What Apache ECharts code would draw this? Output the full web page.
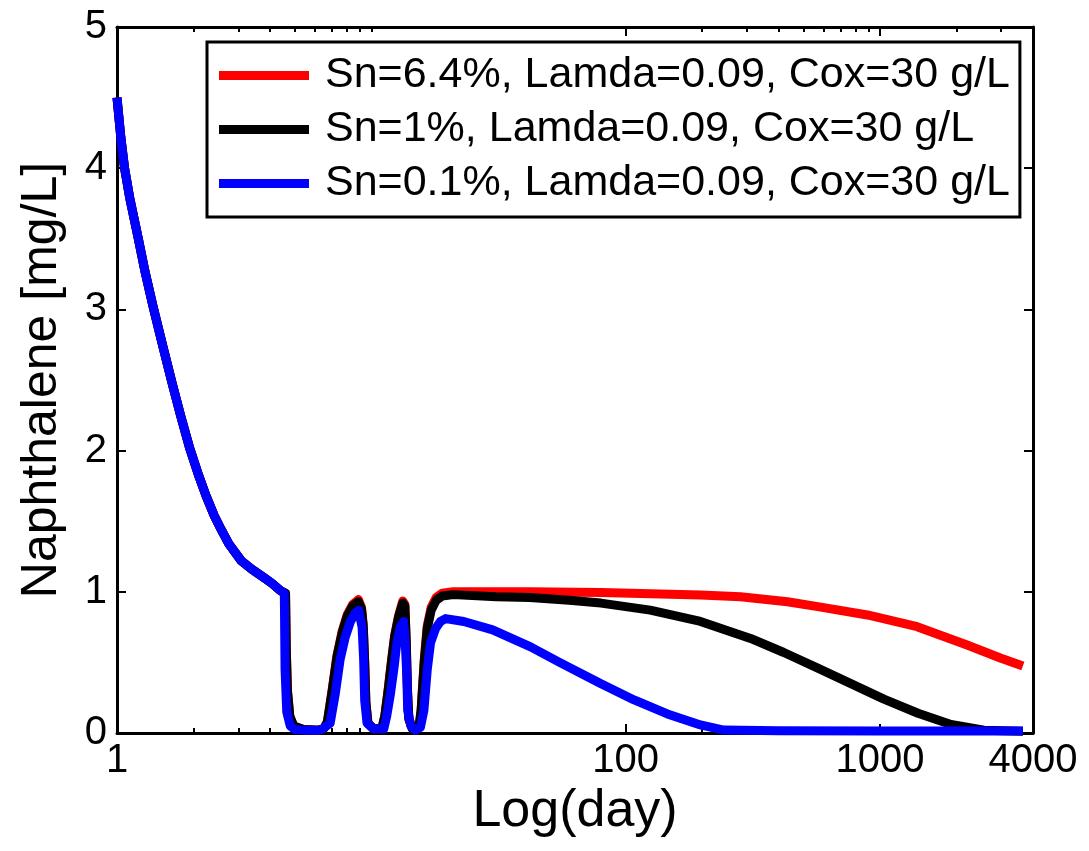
<!DOCTYPE html>
<html>
<head>
<meta charset="utf-8">
<script src="https://cdn.jsdelivr.net/npm/echarts@6/dist/echarts.min.js"></script>
<style>
  html, body { margin: 0; padding: 0; background: #fff; }
  #chart { width: 1089px; height: 851px; }
</style>
</head>
<body>
<div id="chart"></div>
<script>
const FONT = '"Liberation Sans", Arial, Helvetica, sans-serif';

// Axis ticks
const xMajorTicks = [1, 100, 1000, 4000];
const xMinorTicks = [2, 3, 4, 5, 6, 7, 8, 9, 10, 200, 300, 400, 500, 600, 700, 800, 900, 2000, 3000];
const yMin = 0, yMax = 5, yStep = 1;

// Series names
const seriesNames = [
  'Sn=6.4%, Lamda=0.09, Cox=30 g/L',
  'Sn=1%, Lamda=0.09, Cox=30 g/L',
  'Sn=0.1%, Lamda=0.09, Cox=30 g/L'
];
const seriesColors = ['#ff0000', '#000000', '#0000ff'];

// Initial decline shared by all three runs (day, mg/L)
const earlyDays   = [1, 1.035, 1.071, 1.122, 1.21, 1.288, 1.386, 1.514, 1.646, 1.778, 1.929, 2.089, 2.239, 2.41, 2.57, 2.754, 3.08, 3.39, 3.79, 4.07, 4.38];
const earlyValues = [4.5, 4.22, 4.0, 3.79, 3.51, 3.27, 3.02, 2.74, 2.48, 2.25, 2.02, 1.83, 1.68, 1.54, 1.44, 1.34, 1.22, 1.16, 1.10, 1.06, 1.01];

// Sn = 6.4 %
const daysRed = [4.6, 4.63, 4.68, 4.78, 4.95, 5.4, 6.2,
  6.5, 6.72, 7.02, 7.33, 7.68, 8.05, 8.45, 8.9, 9.15, 9.3, 9.42, 9.52, 9.7, 10.2, 11.0,
  11.3, 11.65, 12.0, 12.35, 12.8, 13.3, 13.55, 13.72, 13.88, 14.05, 14.5, 15.0, 15.4,
  15.7, 16.15, 16.6, 17.2, 18.0, 19.0, 21, 42, 80, 197, 283, 433, 570, 893, 1401, 2202, 2994, 3650];
const valuesRed = [0.99, 0.6, 0.3, 0.12, 0.05, 0.025, 0.02,
  0.03, 0.08, 0.31, 0.55, 0.72, 0.84, 0.91, 0.945, 0.89, 0.76, 0.5, 0.22, 0.07, 0.03, 0.03,
  0.12, 0.31, 0.51, 0.69, 0.83, 0.935, 0.91, 0.65, 0.3, 0.1, 0.03, 0.02, 0.04,
  0.16, 0.52, 0.76, 0.89, 0.96, 0.99, 1.0, 1.0, 0.995, 0.977, 0.965, 0.93, 0.895, 0.836, 0.753, 0.623, 0.529, 0.474];

// Sn = 1 %
const daysBlack = [4.6, 4.63, 4.68, 4.78, 4.95, 5.4, 6.2,
  6.5, 6.72, 7.02, 7.33, 7.68, 8.05, 8.45, 8.9, 9.15, 9.3, 9.42, 9.52, 9.7, 10.2, 11.0,
  11.3, 11.65, 12.0, 12.35, 12.8, 13.3, 13.55, 13.72, 13.88, 14.05, 14.5, 15.0, 15.4,
  15.7, 16.15, 16.6, 17.2, 18.0, 19.0, 21, 31, 42, 60, 80, 125, 197, 310, 419, 570, 769, 1037, 1412, 1904, 2566, 3650];
const valuesBlack = [0.99, 0.6, 0.3, 0.12, 0.05, 0.025, 0.02,
  0.03, 0.08, 0.3, 0.54, 0.71, 0.83, 0.9, 0.93, 0.88, 0.75, 0.5, 0.22, 0.07, 0.03, 0.03,
  0.12, 0.3, 0.5, 0.68, 0.82, 0.92, 0.9, 0.65, 0.3, 0.1, 0.03, 0.02, 0.04,
  0.16, 0.5, 0.74, 0.87, 0.94, 0.97, 0.98, 0.965, 0.96, 0.94, 0.92, 0.87, 0.79, 0.67, 0.57, 0.46, 0.35, 0.24, 0.14, 0.06, 0.02, 0.012];

// Sn = 0.1 %
const daysBlue = [4.55, 4.58, 4.65, 4.8, 5.0, 5.5, 6.2,
  6.45, 6.89, 7.22, 7.54, 7.9, 8.28, 8.65, 8.92, 9.2, 9.33, 9.42, 9.62, 10.2, 11.2,
  11.5, 11.9, 12.3, 12.6, 13.0, 13.4, 13.6, 13.8, 13.9, 14.3, 14.9, 15.6,
  16.1, 16.6, 17.1, 17.9, 18.7, 19.6, 23.1, 30, 42.3, 55, 79.7, 108, 146, 197, 243, 400, 1000, 3650];
const valuesBlue = [0.99, 0.45, 0.15, 0.05, 0.025, 0.02, 0.02,
  0.03, 0.07, 0.28, 0.52, 0.68, 0.79, 0.85, 0.87, 0.75, 0.52, 0.23, 0.07, 0.03, 0.03,
  0.12, 0.28, 0.47, 0.64, 0.75, 0.79, 0.64, 0.4, 0.16, 0.05, 0.02, 0.04,
  0.16, 0.45, 0.64, 0.74, 0.79, 0.81, 0.79, 0.73, 0.61, 0.5, 0.35, 0.234, 0.135, 0.057, 0.021, 0.016, 0.015, 0.015];

function pairs(days, values) {
  const head = earlyDays.map((d, i) => [d, earlyValues[i]]);
  return head.concat(days.map((d, i) => [d, values[i]]));
}

const chart = echarts.init(document.getElementById('chart'), null, { renderer: 'canvas' });

const axisColor = '#000';
const tickFont = { fontSize: 40, color: '#000', fontFamily: FONT };

function logAxis(position, ticks, tickLen, showLine, showLabels) {
  return {
    type: 'log', logBase: 10, min: 1, max: 4000, position: position, offset: 0,
    axisLine: { show: showLine, lineStyle: { color: axisColor, width: 3 } },
    axisTick: { show: true, inside: true, length: tickLen, customValues: ticks,
                lineStyle: { color: axisColor, width: 2 } },
    axisLabel: showLabels
      ? Object.assign({ show: true, margin: 8, customValues: xMajorTicks,
                        formatter: (v) => String(v) }, tickFont)
      : { show: false },
    splitLine: { show: false }, minorTick: { show: false }, minorSplitLine: { show: false }
  };
}

const xAxes = [
  Object.assign(logAxis('bottom', xMajorTicks, 9, true, true), {
    name: 'Log(day)', nameLocation: 'middle', nameGap: 44,
    nameTextStyle: { fontSize: 52, color: '#000', fontFamily: FONT }
  }),
  logAxis('bottom', xMinorTicks, 5, false, false),
  logAxis('top', xMajorTicks, 9, true, false),
  logAxis('top', xMinorTicks, 5, false, false)
];

function valueAxis(position, showLabels) {
  return {
    type: 'value', min: yMin, max: yMax, interval: yStep, position: position,
    axisLine: { show: true, lineStyle: { color: axisColor, width: 3 } },
    axisTick: { show: true, inside: true, length: 9, lineStyle: { color: axisColor, width: 2 } },
    axisLabel: showLabels ? Object.assign({ show: true, margin: 10 }, tickFont) : { show: false },
    splitLine: { show: false }
  };
}

const yAxes = [
  Object.assign(valueAxis('left', true), {
    name: 'Naphthalene [mg/L]', nameLocation: 'middle', nameRotate: 90, nameGap: 50,
    nameTextStyle: { fontSize: 50, color: '#000', fontFamily: FONT }
  }),
  valueAxis('right', false)
];

const seriesData = [pairs(daysRed, valuesRed), pairs(daysBlack, valuesBlack), pairs(daysBlue, valuesBlue)];

chart.setOption({
  animation: false,
  backgroundColor: '#fff',
  grid: { left: 117, right: 56, top: 27, bottom: 118, containLabel: false, outerBoundsMode: 'none' },
  xAxis: xAxes,
  yAxis: yAxes,
  legend: {
    orient: 'vertical', left: 207, top: 42,
    padding: [12, 10, 12, 12], itemGap: 11,
    itemWidth: 90, itemHeight: 9, icon: 'rect',
    backgroundColor: '#fff', borderColor: '#000', borderWidth: 3, borderRadius: 0,
    textStyle: { fontSize: 43, lineHeight: 43, color: '#000', fontFamily: FONT, padding: [0, 0, 0, 11] },
    data: seriesNames
  },
  series: seriesNames.map((name, i) => ({
    name: name, type: 'line', xAxisIndex: 0, yAxisIndex: 0,
    data: seriesData[i], showSymbol: false, symbol: 'none',
    color: seriesColors[i],
    lineStyle: { color: seriesColors[i], width: 9, cap: 'butt', join: 'round' },
    emphasis: { disabled: true }, z: 2 + i
  }))
});
</script>
</body>
</html>
